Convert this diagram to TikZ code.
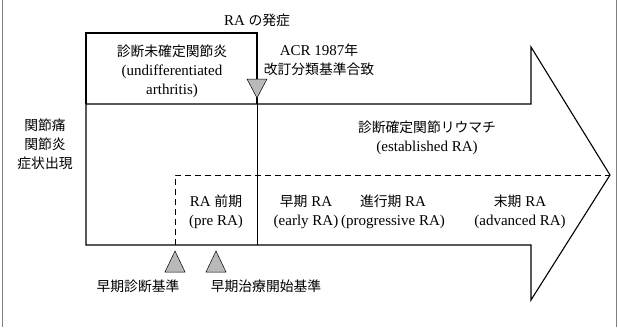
\documentclass[tikz,border=0pt]{standalone}
\usepackage{fontspec}
\setmainfont{Liberation Serif}
\newfontfamily\jpfont{Noto Sans CJK JP}[Scale=0.92]
\newcommand{\ja}[1]{{\jpfont #1}}
\tikzset{
  lbl/.style={align=center, font=\fontsize{15}{19}\selectfont, inner sep=0pt},
  outline/.style={line width=1.1pt, line join=miter},
  marker/.style={draw, line width=0.5pt, fill=gray!55},
}
\begin{document}
\begin{tikzpicture}[x=1pt, y=-1pt]
		\useasboundingbox (0,0) rectangle (618,327);
		\def\hw{10};
		% frame
		\draw[gray, line width=0.8pt] (2,0) -- (2,327);
		\draw[gray, line width=0.8pt] (616,0) -- (616,327);
		% arrow and box corners
		\coordinate (BL) at (86,245);
		\coordinate (BT) at (86,104);
		\coordinate (HB) at (531,104);
		\coordinate (HT) at (531,47);
		\coordinate (Tip) at (610,175);
		\coordinate (HL) at (531,300);
		\coordinate (HR) at (531,245);
		\coordinate (UL) at (86,33);
		\coordinate (UR) at (257,33);
		\coordinate (Onset) at (257,104);
		\coordinate (OnsetB) at (257,245);
		\coordinate (Pre) at (175,175);
		\coordinate (PreB) at (175,245);
		\draw[outline] (BT) -- (HB) -- (HT) -- (Tip) -- (HL) -- (HR) -- (BL) -- cycle;
		\draw[outline] (BT) -- (UL) -- (UR) -- (Onset);
		\draw[line width=0.8pt] (Onset) -- (OnsetB);
		\draw[line width=1pt, dashed, dash pattern=on 6pt off 4pt] (PreB) -- (Pre) -- (Tip);
		% markers
		\draw[marker] (257,98) -- ++(-\hw,-19) -- ++(2*\hw,0) -- cycle;
		\draw[marker] (175,251) -- ++(-\hw,21) -- ++(2*\hw,0) -- cycle;
		\draw[marker] (216,251) -- ++(-\hw,21) -- ++(2*\hw,0) -- cycle;
		% labels
		\node[lbl] (onset) at (257,20) {RA \ja{の発症}};
		\node[lbl] (acr) at (319,60) {ACR 1987\ja{年}\\\ja{改訂分類基準合致}};
		\node[lbl] (undiff) at (172,71) {\ja{診断未確定関節炎}\\(undifferentiated\\arthritis)};
		\node[lbl] (symptom) at (45,144) {\ja{関節痛}\\\ja{関節炎}\\\ja{症状出現}};
		\node[lbl] (established) at (427,138) {\ja{診断確定関節リウマチ}\\(established RA)};
		\node[lbl] (prera) at (216,212) {RA \ja{前期}\\(pre RA)};
		\node[lbl] (early) at (306,212) {\ja{早期} RA\\(early RA)};
		\node[lbl] (progressive) at (393,212) {\ja{進行期} RA\\(progressive RA)};
		\node[lbl] (advanced) at (520,212) {\ja{末期} RA\\(advanced RA)};
		\node[lbl] (earlydx) at (138,286) {\ja{早期診断基準}};
		\node[lbl] (earlytx) at (266,286) {\ja{早期治療開始基準}};
\end{tikzpicture}
\end{document}
